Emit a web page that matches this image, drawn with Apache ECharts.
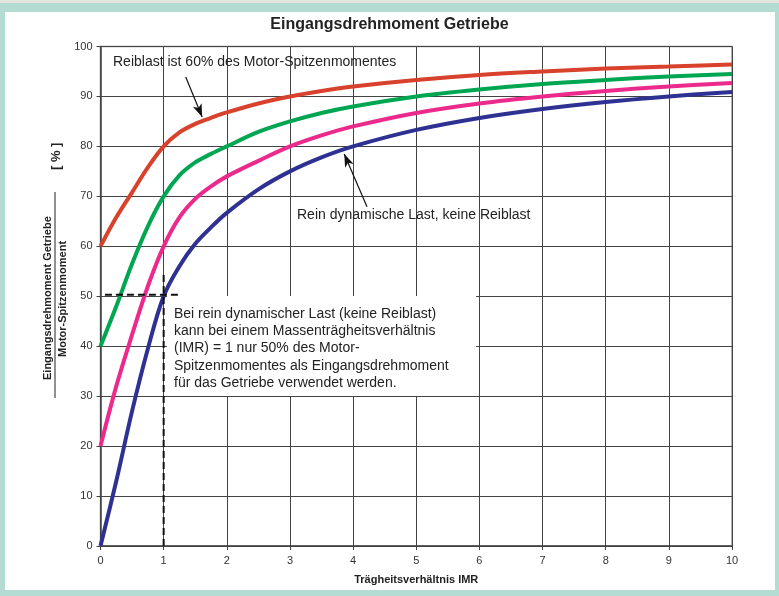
<!DOCTYPE html>
<html><head><meta charset="utf-8">
<script src="https://cdn.jsdelivr.net/npm/echarts@6/dist/echarts.min.js"></script>
<style>html,body{margin:0;padding:0;background:#b4dcd2;}#c{width:779px;height:596px;}</style>
</head><body><div id="c"></div>
<script>
// ---- data ----
const xValues = [0, 0.25, 0.5, 0.75, 1, 1.25, 1.5, 1.75, 2, 2.5, 3, 3.5, 4, 5, 6, 7, 8, 9, 10];
const red60   = [60, 65.8, 70.8, 75.8, 80, 82.8, 84.5, 85.7, 86.8, 88.6, 90, 91.1, 92, 93.3, 94.3, 95, 95.6, 96, 96.4];
const green40 = [40, 48, 56.5, 64, 70, 74.2, 76.8, 78.5, 80, 82.9, 85, 86.7, 88, 90, 91.4, 92.5, 93.3, 94, 94.5];
const pink20  = [20, 32, 42.3, 52, 60, 65.8, 69.5, 72, 74, 77.1, 80, 82.2, 84, 86.7, 88.6, 90, 91.1, 92, 92.7];
const blue0   = [0, 13, 27, 39.5, 50, 56, 60.5, 63.8, 66.7, 71.4, 75, 77.8, 80, 83.3, 85.7, 87.5, 88.9, 90, 90.9];
const xTicks = [0,1,2,3,4,5,6,7,8,9,10];
const yTicks = [0,10,20,30,40,50,60,70,80,90,100];
const dashV = [[1, 0], [1, 54.6]];
const dashH = [[0.07, 50.3], [1.28, 50.3]];
const arrowReib = [[1.35, 93.9], [1.61, 85.9]];
const arrowDyn  = [[4.22, 67.9], [3.86, 78.5]];

const title = 'Eingangsdrehmoment Getriebe';
const xName = 'Trägheitsverhältnis IMR';
const noteReib = 'Reiblast ist 60% des Motor-Spitzenmomentes';
const noteDyn = 'Rein dynamische Last, keine Reiblast';
const noteBox = ['Bei rein dynamischer Last (keine Reiblast)',
 'kann bei einem Massenträgheitsverhältnis',
 '(IMR) = 1 nur 50% des Motor-',
 'Spitzenmomentes als Eingangsdrehmoment',
 'für das Getriebe verwendet werden.'];

const pairs = ys => xValues.map((x, i) => [x, ys[i]]);
const FONT = '"Liberation Sans", Arial, sans-serif';

const chart = echarts.init(document.getElementById('c'), null, {renderer: 'canvas'});
function curve(name, ys, color) {
  return {name, type: 'line', data: pairs(ys), smooth: 0.35, symbol: 'none',
    lineStyle: {color, width: 4}, z: 5};
}
chart.setOption({
  animation: false,
  textStyle: {fontFamily: FONT},
  grid: {left: 100.5, right: 47, top: 46.5, bottom: 50, show: true, borderColor: '#999', borderWidth: 1.5},
  xAxis: {type: 'value', min: 0, max: 10, interval: 1,
    name: xName, nameLocation: 'middle', nameGap: 28,
    nameTextStyle: {fontFamily: FONT, fontSize: 11, fontWeight: 'bold', color: '#222'},
    axisLine: {lineStyle: {color: '#444', width: 1.5}},
    axisTick: {show: true, length: 4, lineStyle: {color: '#444'}},
    axisLabel: {fontFamily: FONT, fontSize: 11, color: '#333', margin: 9,
      formatter: v => xTicks.includes(v) ? String(v) : ''},
    splitLine: {show: true, lineStyle: {color: '#444', width: 1}}},
  yAxis: {type: 'value', min: 0, max: 100, interval: 10,
    axisLine: {show: true, lineStyle: {color: '#444', width: 1.5}},
    axisTick: {show: true, length: 4, lineStyle: {color: '#444'}},
    axisLabel: {fontFamily: FONT, fontSize: 11, color: '#333', margin: 8,
      formatter: v => yTicks.includes(v) ? String(v) : ''},
    splitLine: {show: true, lineStyle: {color: '#444', width: 1}}},
  graphic: [
    {type: 'rect', shape: {x: 0, y: 0, width: 779, height: 3}, style: {fill: '#e2e5de'}, z: -10},
    {type: 'rect', shape: {x: 5, y: 12, width: 770, height: 578}, style: {fill: '#ffffff'}, z: -10},
    {type: 'text', left: 'center', top: 17, style: {text: title, font: 'bold 16px ' + FONT, fill: '#222'}, z: 20},
    {type: 'text', x: 113, y: 55, style: {text: noteReib, font: '14px ' + FONT, fill: '#222'}, z: 20},
    {type: 'text', x: 297, y: 208, style: {text: noteDyn, font: '14px ' + FONT, fill: '#222'}, z: 20},
    {type: 'rect', shape: {x: 167, y: 296, width: 309, height: 100}, style: {fill: '#ffffff'}, z: 15},
    {type: 'text', x: 174, y: 305, style: {text: noteBox.join('\n'), font: '14px ' + FONT, fill: '#222', lineHeight: 17.4}, z: 20},
    {type: 'text', x: 42, y: 380, rotation: Math.PI / 2, style: {text: 'Eingangsdrehmoment Getriebe', font: 'bold 11px ' + FONT, fill: '#222'}, z: 20},
    {type: 'line', shape: {x1: 55, y1: 192, x2: 55, y2: 398}, style: {stroke: '#222', lineWidth: 1}, z: 20},
    {type: 'text', x: 57, y: 357, rotation: Math.PI / 2, style: {text: 'Motor-Spitzenmoment', font: 'bold 11px ' + FONT, fill: '#222'}, z: 20},
    {type: 'text', x: 50, y: 170, rotation: Math.PI / 2, style: {text: '[ % ]', font: 'bold 13px ' + FONT, fill: '#222'}, z: 20}
  ],
  series: [
    curve('60%', red60, '#d8412c'),
    curve('40%', green40, '#00a651'),
    curve('20%', pink20, '#ec2a8c'),
    curve('0%', blue0, '#2e3192'),
    {type: 'line', data: dashV, symbol: 'none', lineStyle: {color: '#111', width: 2, type: [7, 4]}, z: 16},
    {type: 'line', data: dashH, symbol: 'none', lineStyle: {color: '#111', width: 2, type: [7, 4]}, z: 16,
      markLine: {silent: true, symbol: ['none', 'arrow'], symbolSize: [7, 13], label: {show: false},
        lineStyle: {color: '#111', width: 1.2, type: 'solid'}, z: 18,
        data: [
          [{coord: arrowReib[0]}, {coord: arrowReib[1]}],
          [{coord: arrowDyn[0]}, {coord: arrowDyn[1]}]
        ]}}
  ]
});
</script></body></html>
